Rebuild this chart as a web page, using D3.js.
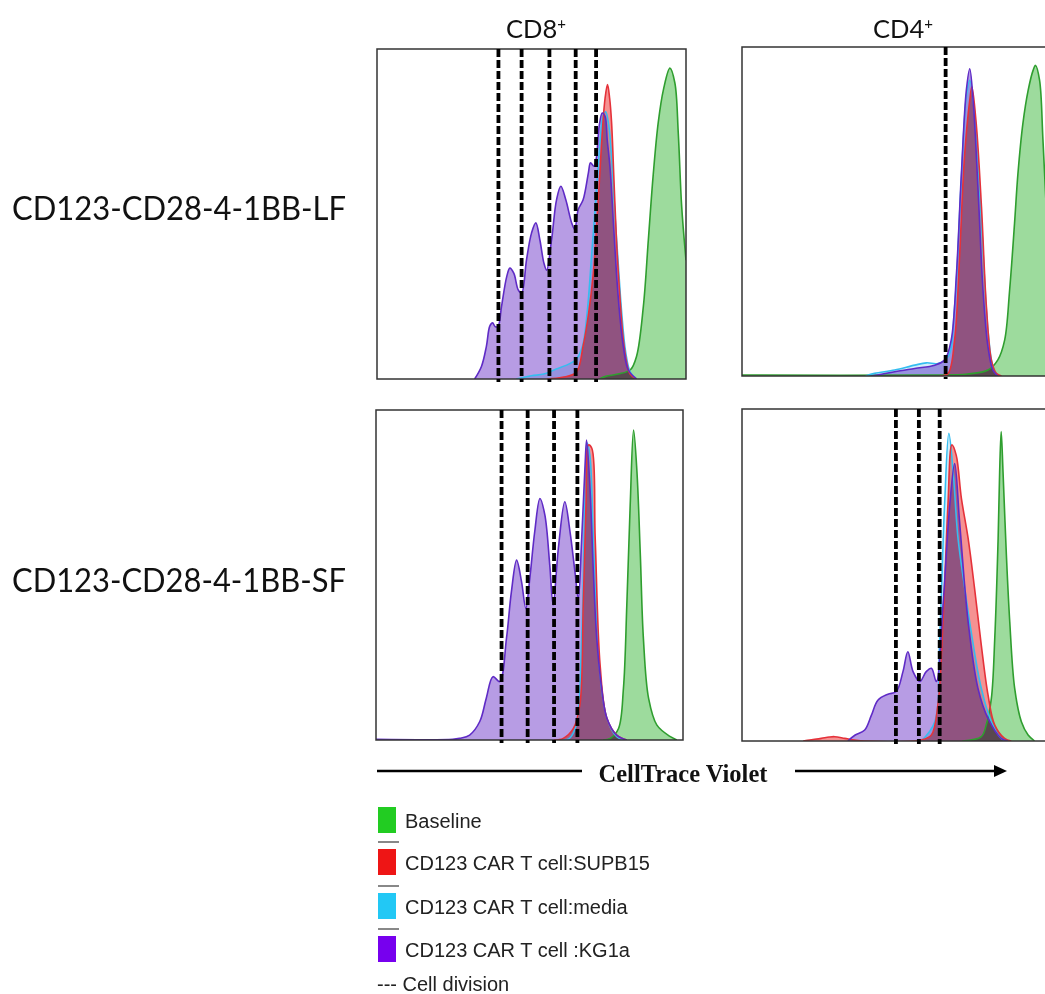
<!DOCTYPE html>
<html>
<head>
<meta charset="utf-8">
<script src="https://cdn.jsdelivr.net/npm/d3@7"></script>
<style>
  body { margin: 0; background: #fff; }
  svg { display: block; }
</style>
</head>
<body>
<svg id="chart" width="1045" height="994"></svg>
<script>
// column / row headings and series names
const columnLabels = ['CD8', 'CD4'];
const rowLabels = ['CD123-CD28-4-1BB-LF', 'CD123-CD28-4-1BB-SF'];
const seriesNames = ['Baseline', 'CD123 CAR T cell:SUPB15', 'CD123 CAR T cell:media', 'CD123 CAR T cell :KG1a'];

// histograms: [CellTrace Violet (% of axis), count (% of panel max)]
const lfCd8Baseline = [[72,0],[74,0.8],[78,1.5],[82,2.8],[84,6.9],[86.2,22],[87.8,42],[89.4,62],[91,77.6],[92.7,87.7],[94.8,94.2],[96.4,89.7],[97.5,74.5],[98.6,52.3],[100,36]];
const lfCd8Supb15 = [[55,0],[60,0.5],[64.5,2],[66.7,10],[68.5,20],[70,32],[71.2,48],[72.1,62],[73,76],[73.8,85],[74.6,89.2],[75.3,85],[75.9,78],[76.7,60],[77.5,42],[78.6,25],[79.7,12],[80.8,5],[81.9,1.5],[84,0]];
const lfCd8Media = [[45,0],[50,1],[54,1.5],[58,3],[62,4.5],[64.5,6],[66.5,10],[68,20],[69.5,38],[71,57],[72.2,72],[73.1,79.6],[74,81],[75,77],[76,66],[77,50],[78,36],[79.2,20],[80.5,8],[82,2],[84,0]];
const lfCd8Kg1a = [[31.6,0],[33.8,3.8],[35.4,9.9],[36.5,16],[37.4,17],[38.3,15.8],[39.2,16],[40.3,22],[42,31.1],[43,33.6],[44.3,32],[45.7,27],[46.8,26],[48.4,36.2],[50,44.2],[51.4,47.3],[52.7,42.2],[54,35.2],[54.9,33],[56.5,42.2],[58.1,54.3],[59.5,58.4],[61.1,54.3],[63,47.3],[64,45.3],[65.1,51.3],[66.7,54.3],[68.4,62.4],[69.1,65.5],[70.2,64.5],[71,67],[71.9,76.6],[72.9,80.6],[73.8,79.6],[74.5,72.5],[75.4,64.2],[76.5,47.3],[77.5,32],[78.6,19],[79.7,10],[81.3,2.8],[84,0]];
const lfCd8Divisions = [39.3, 46.8, 55.8, 64.3, 70.9];

const lfCd4Baseline = [[0,0.3],[60,0.3],[73,0.6],[79.6,1.8],[82.8,4.9],[85,10.9],[86.6,26],[88.2,46.4],[89.3,61.5],[90.9,76.7],[92.6,86.8],[94.2,92.9],[95,94.4],[96.3,89.9],[97.4,71.7],[99,41],[100,26]];
const lfCd4Supb15 = [[64,0],[66.7,0.8],[68.8,11],[70.4,36],[72,66.6],[73.7,83.8],[74.4,87.9],[75.8,76.7],[77.5,51.4],[79.1,21],[80.7,4.9],[82.3,0.8],[84,0]];
const lfCd4Media = [[40,0],[42.9,0.8],[49.4,1.8],[55.9,3.3],[59.7,4],[63.4,3.8],[66.7,5.9],[68.8,21],[70.8,56.5],[72.6,84.8],[73.7,89.9],[75.3,79.8],[77.5,46.4],[79.6,14],[81.2,2.8],[82.8,0]];
const lfCd4Kg1a = [[41.9,0],[49.4,1.3],[55.9,2.3],[62.4,3.3],[65.6,4.9],[67.7,10.9],[69.4,31],[71,61.5],[72.6,86.8],[73.7,93.4],[74.8,83.8],[76.4,56.5],[78,26],[79.6,8.9],[81.2,1.8],[82.8,0]];
const lfCd4Divisions = [65.9];

const sfCd8Baseline = [[74,0],[76.3,0.5],[79,3.5],[80.6,15.7],[81.7,40.9],[82.8,71.2],[83.9,93.9],[85,81.3],[86.1,56.1],[87.1,30.8],[88.8,12.6],[91.5,4.5],[95.9,1],[98,0]];
const sfCd8Supb15 = [[58,0],[61,0.5],[64.3,3.5],[66.4,10.6],[67.5,40.9],[68.4,71.2],[69.2,89.4],[70.3,88.4],[71.4,61.1],[73,22.7],[75.2,6.6],[78.4,1.5],[81.7,0]];
const sfCd8Media = [[60,0],[63,0.5],[65.2,4.5],[67,30.8],[68,71],[68.8,90],[69.7,86],[71,56],[73,20],[75.2,6.6],[78.4,1],[81,0]];
const sfCd8Kg1a = [[0,0.2],[25,0.2],[27.2,0.5],[30.5,1.5],[33.8,5.6],[35.9,12.6],[38.1,19.2],[40.3,17.7],[42.5,30.8],[44.1,44.9],[45.8,54.5],[47.4,48],[48.8,39.9],[50.1,49],[51.7,63.1],[53.4,73.2],[55,68.2],[56.6,53],[57.7,40.9],[59.4,58.1],[61.5,72.2],[63.2,63.1],[64.8,51],[65.9,42.9],[67,61.1],[68.1,83.3],[68.6,90.9],[69.7,76.3],[70.8,51],[71.9,30.8],[73.5,15.7],[75.2,6.6],[78.4,1.5],[81.7,0]];
const sfCd8Divisions = [40.9, 49.4, 58.0, 65.6];

const sfCd4Baseline = [[72,0],[78.2,1.3],[79.8,4.8],[81.5,12.9],[82.6,30.9],[83.7,61],[84.2,81.1],[84.7,93.2],[85.3,81.1],[86.4,56],[87.5,35.9],[89.1,15.9],[91.3,5.8],[93.5,1.8],[95.6,0]];
const sfCd4Supb15 = [[20,0],[22.1,0.3],[25.9,0.8],[28.5,1.2],[30.3,1.3],[33.6,0.8],[36.8,0.3],[40,0],[58.6,0.3],[61.9,1.8],[64,10.8],[65.7,35.9],[67.3,71.1],[68.6,89.2],[70,86.1],[71.7,73.1],[73.9,61],[76,46],[78.2,28.9],[80.4,13.9],[82.6,4.8],[85.8,0.8],[88,0]];
const sfCd4Media = [[58.6,0],[63,5.8],[64.6,30.9],[66.2,71.1],[67.6,92.7],[69,81.1],[70.6,61],[72.8,46],[74.9,32.9],[78.2,15.9],[81.5,5.8],[84.7,0.8],[87,0]];
const sfCd4Kg1a = [[34.6,0],[37,1.8],[40.1,3.3],[42.3,7.8],[44.4,12.3],[47.7,14.1],[50.4,14.9],[52.6,20.9],[54.2,26.9],[55.9,20.9],[58.1,17.9],[60.2,20.9],[61.9,21.9],[63.5,17.9],[65.7,41],[67.9,71.1],[69.5,83.6],[71.1,66.1],[73.9,35.9],[77.1,15.9],[80.4,6.8],[84.7,0.8],[86.9,0]];
const sfCd4Divisions = [50.3, 57.8, 64.6];

// series styles, in seriesNames order
const swatch = ['#22cc22', '#ee1515', '#22c8f5', '#7700ee'];
const fills = ['#9ddb9d', '#f59292', '#d2eefa', '#b79ce4'];
const strokes = ['#2f9e2f', '#e5323a', '#35bdf0', '#5f2bc6'];

const panels = [
  { x: 377, y: 49, w: 309, h: 330, series: [lfCd8Baseline, lfCd8Supb15, lfCd8Media, lfCd8Kg1a], divisions: lfCd8Divisions },
  { x: 742, y: 47, w: 309, h: 329, series: [lfCd4Baseline, lfCd4Supb15, lfCd4Media, lfCd4Kg1a], divisions: lfCd4Divisions },
  { x: 376, y: 410, w: 307, h: 330, series: [sfCd8Baseline, sfCd8Supb15, sfCd8Media, sfCd8Kg1a], divisions: sfCd8Divisions },
  { x: 742, y: 409, w: 306, h: 332, series: [sfCd4Baseline, sfCd4Supb15, sfCd4Media, sfCd4Kg1a], divisions: sfCd4Divisions },
];

const svg = d3.select('#chart');
svg.append('rect').attr('width', 1045).attr('height', 994).attr('fill', '#fff');

panels.forEach((p, i) => {
  const xScale = d3.scaleLinear([0, 100], [0, p.w]);
  const yScale = d3.scaleLinear([0, 100], [p.h, 0]);

  const area = d3.area()
    .x((d) => xScale(d[0]))
    .y0(yScale(0))
    .y1((d) => yScale(d[1]))
    .curve(d3.curveCatmullRom);
  const line = d3.line()
    .x((d) => xScale(d[0]))
    .y((d) => yScale(d[1]))
    .curve(d3.curveCatmullRom);

  const g = svg.append('g').attr('transform', `translate(${p.x}, ${p.y})`);
  g.append('clipPath').attr('id', `clip-${i}`)
    .append('rect').attr('width', p.w).attr('height', p.h);

  const plot = g.append('g').attr('clip-path', `url(#clip-${i})`);

  plot.selectAll('path.fill')
    .data(p.series)
    .join('path')
      .attr('class', 'fill')
      .attr('d', area)
      .attr('fill', (d, k) => fills[k])
      .style('mix-blend-mode', 'multiply');

  // outlines: baseline, media, SUPB15, KG1a
  [0, 2, 1, 3].forEach((k) => {
    plot.append('path')
      .attr('d', line(p.series[k]))
      .attr('fill', 'none')
      .attr('stroke', strokes[k])
      .attr('stroke-width', 1.6)
      .attr('stroke-linejoin', 'round');
  });

  g.append('rect')
    .attr('width', p.w)
    .attr('height', p.h)
    .attr('fill', 'none')
    .attr('stroke', '#333')
    .attr('stroke-width', 1.5);

  g.selectAll('line.division')
    .data(p.divisions)
    .join('line')
      .attr('class', 'division')
      .attr('x1', (d) => xScale(d))
      .attr('x2', (d) => xScale(d))
      .attr('y1', 0)
      .attr('y2', p.h + 3)
      .attr('stroke', '#000')
      .attr('stroke-width', 3.8)
      .attr('stroke-dasharray', '8,3');
});

// column headings
const headX = [536, 903];
columnLabels.forEach((label, i) => {
  const t = svg.append('text')
    .attr('x', headX[i])
    .attr('y', 38)
    .attr('text-anchor', 'middle')
    .style('font-family', 'Lato, sans-serif')
    .style('font-size', '25.5px')
    .attr('fill', '#111')
    .text(label);
  t.append('tspan')
    .attr('dy', -9)
    .style('font-size', '15px')
    .text('+');
});

// row headings
const rowY = [220, 592];
rowLabels.forEach((label, i) => {
  svg.append('text')
    .attr('x', 12)
    .attr('y', rowY[i])
    .attr('textLength', 334)
    .attr('lengthAdjust', 'spacingAndGlyphs')
    .style('font-family', 'Lato, sans-serif')
    .style('font-size', '32px')
    .attr('fill', '#111')
    .text(label);
});

// x-axis caption with arrow
svg.append('line')
  .attr('x1', 377).attr('x2', 582).attr('y1', 771).attr('y2', 771)
  .attr('stroke', '#000').attr('stroke-width', 2.5);
svg.append('line')
  .attr('x1', 795).attr('x2', 997).attr('y1', 771).attr('y2', 771)
  .attr('stroke', '#000').attr('stroke-width', 2.5);
svg.append('path')
  .attr('d', 'M994,765 L1007,771 L994,777 Z')
  .attr('fill', '#000');
svg.append('text')
  .text('CellTrace Violet')
  .attr('x', 683)
  .attr('y', 782)
  .attr('text-anchor', 'middle')
  .style('font-family', '"Liberation Serif", "Times New Roman", serif')
  .style('font-weight', 'bold')
  .style('font-size', '24.5px')
  .attr('fill', '#111');

// legend
const legendTop = [807, 849, 893, 936];
const legend = svg.append('g')
  .style('font-family', '"Liberation Sans", Arial, sans-serif')
  .style('font-size', '20px');

legend.selectAll('rect.swatch')
  .data(seriesNames)
  .join('rect')
    .attr('class', 'swatch')
    .attr('x', 378)
    .attr('y', (d, i) => legendTop[i])
    .attr('width', 18)
    .attr('height', 26)
    .attr('fill', (d, i) => swatch[i]);

legend.selectAll('text.item')
  .data(seriesNames)
  .join('text')
    .attr('class', 'item')
    .attr('x', 405)
    .attr('y', (d, i) => legendTop[i] + 21)
    .attr('fill', '#222')
    .text((d) => d);

legend.selectAll('line.sep')
  .data(legendTop.slice(1))
  .join('line')
    .attr('class', 'sep')
    .attr('x1', 378).attr('x2', 399)
    .attr('y1', (d) => d - 7).attr('y2', (d) => d - 7)
    .attr('stroke', '#888')
    .attr('stroke-width', 2);

legend.append('text')
  .attr('x', 377)
  .attr('y', 991)
  .attr('fill', '#222')
  .text('--- Cell division');
</script>
</body>
</html>
